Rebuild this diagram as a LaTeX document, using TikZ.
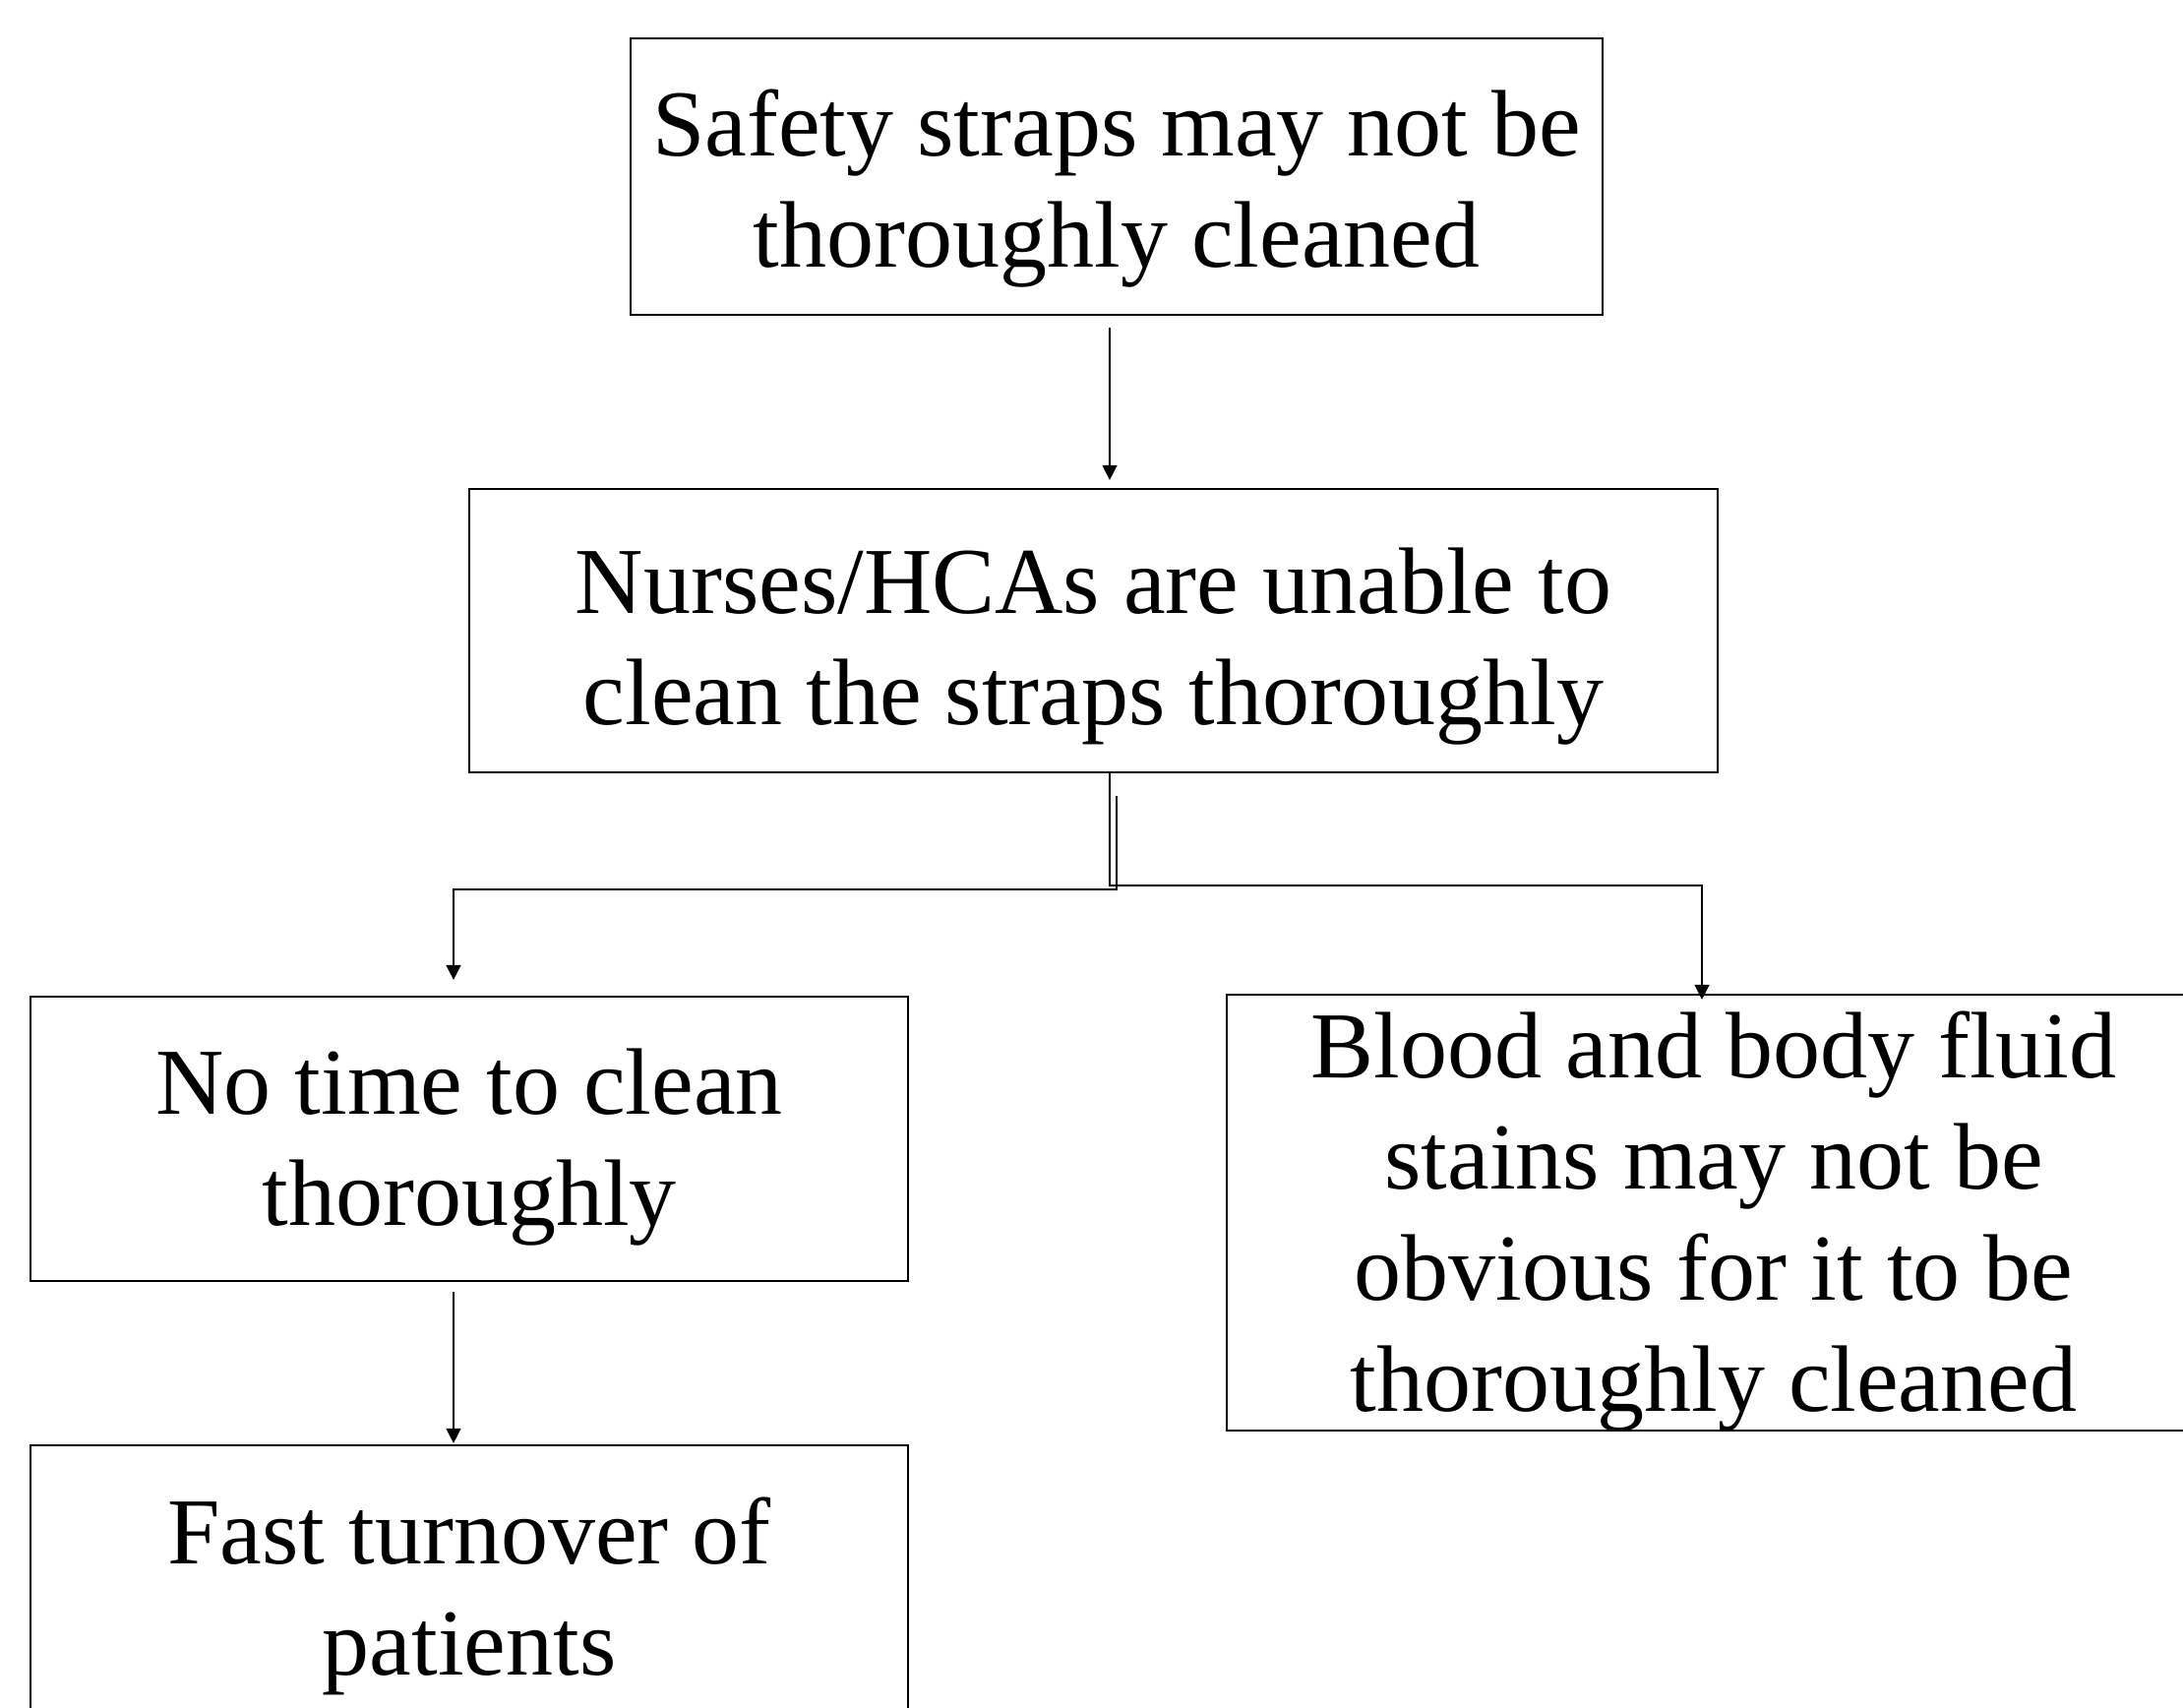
\documentclass[tikz,border=0pt]{standalone}
\usepackage{fontspec}
\setmainfont{Liberation Serif}
\usetikzlibrary{arrows.meta}
\tikzset{
  box/.style={draw=black, line width=2.2pt, rectangle, inner sep=0pt},
  txt/.style={align=center, inner sep=0pt, anchor=base, text=black,
              font=\fontsize{96}{113}\selectfont},
  conn/.style={draw=black, line width=1.4pt},
  arr/.style={conn, -{Triangle[length=15pt,width=15pt]}}
}
\begin{document}
\begin{tikzpicture}[x=1pt,y=-1pt]
\useasboundingbox (0,0) rectangle (2219,1736);
\clip (0,0) rectangle (2219,1736);
\fill[white] (0,0) rectangle (2219,1736);

% boxes
\node[box, minimum width=988pt,  minimum height=281pt] (b1) at (1135,179.5) {};
\node[box, minimum width=1269pt, minimum height=288pt] (b2) at (1111.5,641) {};
\node[box, minimum width=892pt,  minimum height=289pt] (b3) at (477,1157.5) {};
\node[box, minimum width=892pt,  minimum height=289pt] (b4) at (477,1613.5) {};
\node[box, minimum width=990pt,  minimum height=443pt] (b5) at (1742,1232.5) {};

% texts (anchor = baseline of the last line)
\node[txt] (t1) at (1135,272) {Safety straps may not be\\thoroughly cleaned};
\node[txt] (t2) at (1111.5,736) {Nurses/HCAs are unable to\\clean the straps thoroughly};
\node[txt] (t3) at (477,1245) {No time to clean\\thoroughly};
\node[txt] (t4) at (477,1702) {Fast turnover of\\patients};
\node[txt] (t5) at (1742,1434) {Blood and body fluid\\stains may not be\\obvious for it to be\\thoroughly cleaned};

% connectors
\draw[arr, shorten <=12pt, shorten >=8pt] ([xshift=-7pt]b1.south) -- ([xshift=-7pt]b1.south |- b2.north);
\draw[arr] ([xshift=16.5pt]b2.south) -- ++(0,114) -| ([xshift=-12pt,yshift=-6pt]b5.north);
\draw[arr] ([xshift=23.5pt]b2.south) ++(0,23) -- ++(0,95) -| ([xshift=-16pt,yshift=16pt]b3.north);
\draw[arr, shorten <=10pt] ([xshift=-16pt]b3.south) -- ([xshift=-16pt,yshift=1pt]b4.north);
\end{tikzpicture}
\end{document}
